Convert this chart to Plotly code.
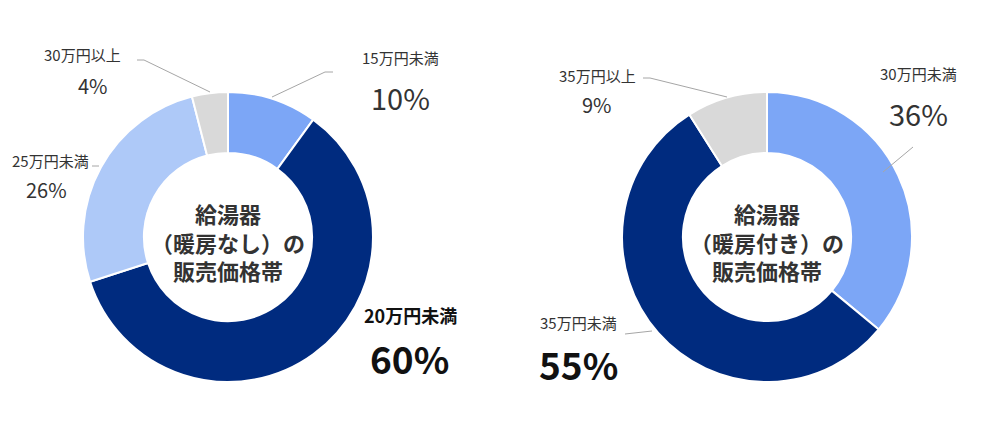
import plotly.graph_objects as go

# 給湯器（暖房なし）
labels_nashi = ["15万円未満", "20万円未満", "25万円未満", "30万円以上"]
values_nashi = [10, 60, 26, 4]
colors_nashi = ["#7CA6F6", "#002B7F", "#AEC9F8", "#D9D9D9"]

# 給湯器（暖房付き）
labels_tsuki = ["30万円未満", "35万円未満", "35万円以上"]
values_tsuki = [36, 55, 9]
colors_tsuki = ["#7CA6F6", "#002B7F", "#D9D9D9"]

W, H = 1000, 428
OFF = 8  # page body margin
FONT = "Noto Sans CJK JP, Noto Sans, sans-serif"


def px(x, y):
    # screen pixel position -> paper coordinates
    return (x - OFF) / W, 1 - (y - OFF) / H


def domain(cx, cy, r):
    x0, y1 = px(cx - r, cy - r)
    x1, y0 = px(cx + r, cy + r)
    return dict(x=[x0, x1], y=[y0, y1])


fig = go.Figure()

fig.add_trace(go.Pie(
    labels=labels_nashi, values=values_nashi, sort=False, direction="clockwise",
    rotation=0, hole=0.58, textinfo="none", hoverinfo="label+percent",
    marker=dict(colors=colors_nashi, line=dict(color="white", width=2)),
    domain=domain(228, 237, 145), showlegend=False,
))
fig.add_trace(go.Pie(
    labels=labels_tsuki, values=values_tsuki, sort=False, direction="clockwise",
    rotation=0, hole=0.58, textinfo="none", hoverinfo="label+percent",
    marker=dict(colors=colors_tsuki, line=dict(color="white", width=2)),
    domain=domain(767, 237, 145), showlegend=False,
))

annotations = []


def text(x, y, s, size, bold=False, color="#333333"):
    ax, ay = px(x, y)
    if bold:
        s = "<b>" + s + "</b>"
    annotations.append(dict(
        x=ax, y=ay, xref="paper", yref="paper", text=s, showarrow=False,
        xanchor="center", yanchor="middle",
        font=dict(family=FONT, size=size, color=color),
    ))


# center titles
text(228, 241, "給湯器<br>（暖房なし）の<br>販売価格帯", 22, bold=True)
text(767, 241, "給湯器<br>（暖房付き）の<br>販売価格帯", 22, bold=True)

# left chart labels
text(82, 55, labels_nashi[3], 15)
text(93, 86, f"{values_nashi[3]}%", 20)
text(400, 58, labels_nashi[0], 15)
text(400, 97, f"{values_nashi[0]}%", 29)
text(50, 160, labels_nashi[2], 15)
text(46, 189, f"{values_nashi[2]}%", 20)
text(410, 315, labels_nashi[1], 18, bold=True, color="#111111")
text(409, 358, f"{values_nashi[1]}%", 37, bold=True, color="#111111")

# right chart labels
text(597, 75, labels_tsuki[2], 15)
text(597, 105, f"{values_tsuki[2]}%", 20)
text(918, 74, labels_tsuki[0], 15)
text(918, 113, f"{values_tsuki[0]}%", 29)
text(578, 322, labels_tsuki[1], 15)
text(578, 364, f"{values_tsuki[1]}%", 37, bold=True, color="#111111")

# leader lines
leaders = [
    [(137, 60), (144, 60), (210, 92)],
    [(333, 72), (325, 72), (272, 97)],
    [(92, 166), (99, 166)],
    [(643, 78), (650, 78), (727, 97)],
    [(913, 147), (883, 172)],
    [(625, 334), (652, 331)],
]
shapes = []
for pts in leaders:
    for (x0, y0), (x1, y1) in zip(pts[:-1], pts[1:]):
        a0, b0 = px(x0, y0)
        a1, b1 = px(x1, y1)
        shapes.append(dict(type="line", xref="paper", yref="paper",
                           x0=a0, y0=b0, x1=a1, y1=b1,
                           line=dict(color="#A6A6A6", width=1)))

fig.update_layout(
    width=W, height=H, margin=dict(l=0, r=0, t=0, b=0),
    paper_bgcolor="white", plot_bgcolor="white",
    annotations=annotations, shapes=shapes,
    font=dict(family=FONT),
)

fig.write_html("out.html")
